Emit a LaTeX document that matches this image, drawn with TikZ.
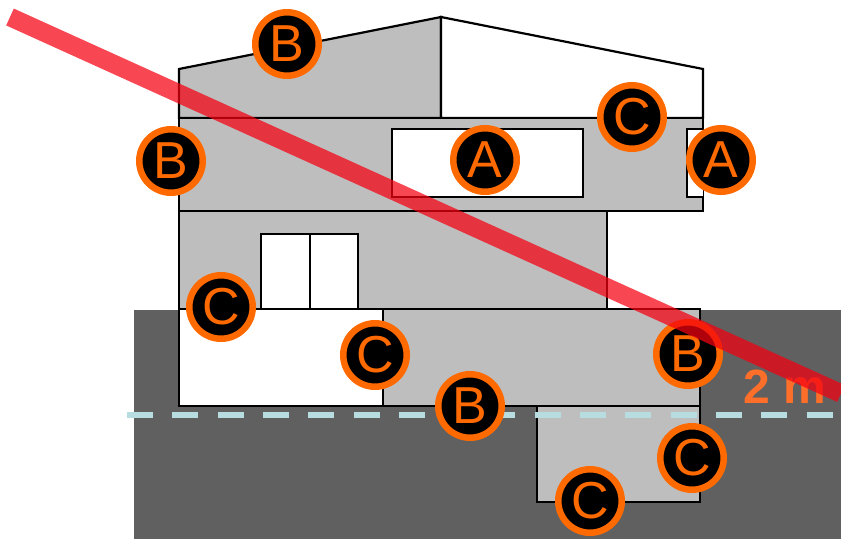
\documentclass[tikz,border=0pt]{standalone}
\usepackage{fontspec}
\setmainfont{Liberation Sans}
\definecolor{ground}{HTML}{606060}
\definecolor{wallgrey}{HTML}{BEBEBE}
\definecolor{tagorange}{HTML}{FF6A00}
\definecolor{dimorange}{HTML}{FF6F2A}
\definecolor{levelblue}{HTML}{B8DDE0}
\definecolor{bandred}{HTML}{F50010}
\newcommand{\taglabel}[1]{\raisebox{-1.5pt}{#1}}
\tikzset{
  wall/.style={draw=black,line width=2.2pt,fill=wallgrey,line join=miter},
  opening/.style={draw=black,line width=2.2pt,fill=white,line join=miter},
  tag/.style={circle,draw=tagorange,line width=6.5pt,fill=black,text=tagorange,minimum size=63.5pt,inner sep=0pt,font=\fontsize{52}{52}\selectfont},
  levelline/.style={draw=levelblue,line width=6pt,dash pattern=on 26pt off 19.3pt},
  sightband/.style={draw=bandred,line width=18.5pt,opacity=.72},
}
\begin{document}
\begin{tikzpicture}[x=1pt,y=-1pt]
\useasboundingbox (0,0) rectangle (841,539);
\fill[ground] (134,310) rectangle (841,539);
% roof
\draw[wall] (179,118) -- (179,69) -- (441,17) -- (441,118) -- cycle;
\draw[opening] (441,118) -- (441,17) -- (703,69) -- (703,118) -- cycle;
% upper floor
\draw[wall] (179,118) rectangle (703,211);
\draw[opening] (392,129) rectangle (583,197);
\draw[opening] (703,129) -- (687,129) -- (687,197) -- (703,197);
% middle floor
\draw[wall] (179,211) rectangle (607,309);
\draw[opening] (261,234) rectangle (310,309);
\draw[opening] (310,234) rectangle (358,309);
% lower floors
\draw[opening] (179,309) rectangle (383,406);
\draw[wall] (383,309) rectangle (700,406);
\draw[wall] (537,406) rectangle (700,502);
% ground level
\coordinate (levelL) at (127,414.5);
\coordinate (levelR) at (835,414.5);
\draw[levelline] (levelL) -- (levelR);
\node[text=dimorange,font=\fontsize{48}{48}\selectfont\bfseries,inner sep=0pt] (dim) at (785,386.5) {2 m};
% tags
\node[tag] (t1) at (287,44) {\taglabel{B}};
\node[tag] (t2) at (171,161) {\taglabel{B}};
\node[tag] (t3) at (485,160) {\taglabel{A}};
\node[tag] (t4) at (632,117) {\taglabel{C}};
\node[tag] (t5) at (721,160) {\taglabel{A}};
\node[tag] (t6) at (221,307) {\taglabel{C}};
\node[tag] (t7) at (375,355) {\taglabel{C}};
\node[tag] (t8) at (688,354) {\taglabel{B}};
\node[tag] (t9) at (470,406) {\taglabel{B}};
\node[tag] (t10) at (692,458) {\taglabel{C}};
\node[tag] (t11) at (590,501) {\taglabel{C}};
% sight line
\coordinate (bandA) at (10,17);
\coordinate (bandB) at (841,393.5);
\draw[sightband] (bandA) -- (bandB);
\end{tikzpicture}
\end{document}
